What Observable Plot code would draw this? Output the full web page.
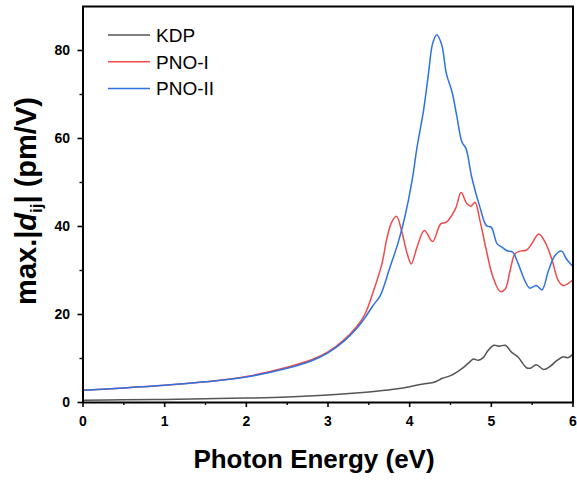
<!DOCTYPE html>
<html>
<head>
<meta charset="utf-8">
<script src="https://cdn.jsdelivr.net/npm/d3@7"></script>
<script src="https://cdn.jsdelivr.net/npm/@observablehq/plot@0.6"></script>
<style>
  html, body { margin: 0; padding: 0; background: #fff; }
  #chart { width: 577px; height: 484px; }
</style>
</head>
<body>
<div id="chart"></div>
<script>
// ---- Data ----
const seriesNames = ["KDP", "PNO-I", "PNO-II"];

const energyKDP = [0, 0.5, 1, 1.5, 2, 2.5, 3.0, 3.5, 3.8, 4.0, 4.1, 4.2, 4.3, 4.4, 4.5, 4.6, 4.66, 4.74, 4.78, 4.84, 4.9, 4.96, 5.03, 5.1, 5.17, 5.25, 5.33, 5.38, 5.43, 5.48, 5.55, 5.64, 5.72, 5.8, 5.88, 5.94, 6.0];
const kdp = [0.5, 0.6, 0.7, 0.85, 1.0, 1.25, 1.7, 2.4, 3.0, 3.6, 4.0, 4.3, 4.6, 5.5, 6.1, 7.2, 8.0, 9.3, 9.9, 9.6, 10.2, 11.8, 13.0, 12.8, 13.0, 11.4, 10.3, 9.0, 7.9, 7.8, 8.6, 7.5, 8.2, 9.5, 10.4, 10.2, 11.1];

const energyPNO1 = [0, 0.5, 1, 1.5, 2, 2.5, 2.8, 3.0, 3.2, 3.35, 3.45, 3.56, 3.66, 3.72, 3.78, 3.84, 3.9, 3.97, 4.02, 4.09, 4.18, 4.28, 4.38, 4.45, 4.56, 4.63, 4.7, 4.75, 4.8, 4.86, 4.94, 5.02, 5.11, 5.17, 5.23, 5.29, 5.35, 5.43, 5.49, 5.58, 5.66, 5.74, 5.82, 5.88, 6.0];
const pno1 = [2.8, 3.3, 3.9, 4.7, 5.9, 8.0, 9.7, 11.5, 14.3, 17.2, 20.0, 25.5, 31.5, 37.2, 41.0, 42.3, 39.1, 33.8, 31.5, 35.3, 39.1, 36.6, 40.6, 41.0, 44.0, 47.7, 45.2, 44.6, 45.5, 41.4, 34.5, 28.5, 25.2, 25.8, 30.0, 33.8, 34.4, 34.6, 35.9, 38.3, 36.4, 32.6, 27.7, 26.6, 27.9];

const energyPNO2 = [0, 0.5, 1, 1.5, 2, 2.5, 2.8, 3.0, 3.2, 3.35, 3.45, 3.55, 3.64, 3.76, 3.86, 3.94, 4.03, 4.09, 4.17, 4.23, 4.28, 4.33, 4.39, 4.45, 4.52, 4.58, 4.64, 4.69, 4.76, 4.86, 4.94, 5.0, 5.07, 5.13, 5.19, 5.26, 5.33, 5.41, 5.47, 5.55, 5.62, 5.7, 5.78, 5.86, 5.92, 6.0];
const pno2 = [2.8, 3.3, 3.9, 4.7, 5.8, 7.8, 9.5, 11.3, 14.0, 16.8, 19.2, 22.0, 24.3, 30.8, 36.4, 42.1, 50.5, 58.0, 66.4, 74.7, 81.5, 83.6, 81.5, 74.7, 70.5, 64.8, 59.2, 57.7, 51.2, 44.4, 40.2, 39.8, 36.1, 35.3, 34.5, 34.2, 31.5, 27.7, 26.0, 26.6, 25.6, 30.0, 33.4, 34.4, 32.6, 30.9];

const xTicks = [0, 1, 2, 3, 4, 5, 6];
const xMinorTicks = [0.5, 1.5, 2.5, 3.5, 4.5, 5.5];
const yTicks = [0, 20, 40, 60, 80];
const yMinorTicks = [10, 30, 50, 70];

// ---- Build tables ----
const rows = [
  ...energyKDP.map((e, i) => ({series: seriesNames[0], e, v: kdp[i]})),
  ...energyPNO1.map((e, i) => ({series: seriesNames[1], e, v: pno1[i]})),
  ...energyPNO2.map((e, i) => ({series: seriesNames[2], e, v: pno2[i]}))
];

const colors = ["#555555", "#f04a4d", "#2d72e0"];
const FONT = "'Liberation Sans', Arial, Helvetica, sans-serif";

const chart = Plot.plot({
  width: 577,
  height: 484,
  marginLeft: 82.5,
  marginRight: 4.5,
  marginTop: 6,
  marginBottom: 82,
  style: {fontFamily: FONT, background: "#fff", color: "#000", overflow: "visible"},
  x: {domain: [0, 6]},
  y: {domain: [0, 90]},
  color: {domain: seriesNames, range: colors},
  marks: [
    Plot.axisX({ticks: xTicks, tickFormat: d => String(d), tickSize: 5, tickPadding: 9, fontSize: 14, fontWeight: "bold", label: null, strokeWidth: 1.6}),
    Plot.axisX({ticks: xMinorTicks, tickSize: 3, text: null, label: null, strokeWidth: 1.4}),
    Plot.axisY({ticks: yTicks, tickFormat: d => String(d), tickSize: 5, tickPadding: 8, fontSize: 14, fontWeight: "bold", label: null, strokeWidth: 1.6}),
    Plot.axisY({ticks: yMinorTicks, tickSize: 3, text: null, label: null, strokeWidth: 1.4}),
    Plot.line(rows, {x: "e", y: "v", z: "series", stroke: "series", strokeWidth: 1.5, curve: "catmull-rom"}),
    Plot.frame({stroke: "#000", strokeWidth: 2})
  ]
});

document.getElementById("chart").appendChild(chart);

// ---- Titles and legend ----
const svg = d3.select(chart);

svg.append("text")
  .attr("x", 314).attr("y", 468)
  .attr("text-anchor", "middle")
  .attr("font-family", FONT).attr("font-size", 26).attr("font-weight", "bold")
  .attr("fill", "#000")
  .text("Photon Energy (eV)");

const yt = svg.append("text")
  .attr("transform", "translate(36,201) rotate(-90)")
  .attr("text-anchor", "middle")
  .attr("font-family", FONT).attr("font-size", 29).attr("font-weight", "bold")
  .attr("fill", "#000");
yt.append("tspan").text("max.|");
yt.append("tspan").attr("font-style", "italic").text("d");
yt.append("tspan").attr("font-size", 17).attr("dy", 6).text("ij");
yt.append("tspan").attr("dy", -6).text("| (pm/V)");

const legend = svg.append("g").attr("text-anchor", "start");
seriesNames.forEach((name, i) => {
  const y = 35 + i * 26.7;
  legend.append("line")
    .attr("x1", 108).attr("x2", 150).attr("y1", y).attr("y2", y)
    .attr("stroke", colors[i]).attr("stroke-width", 1.5);
  legend.append("text")
    .attr("x", 156).attr("y", y + 6.8)
    .attr("text-anchor", "start")
    .attr("font-family", FONT).attr("font-size", 19)
    .attr("fill", "#000")
    .text(name);
});
</script>
</body>
</html>
